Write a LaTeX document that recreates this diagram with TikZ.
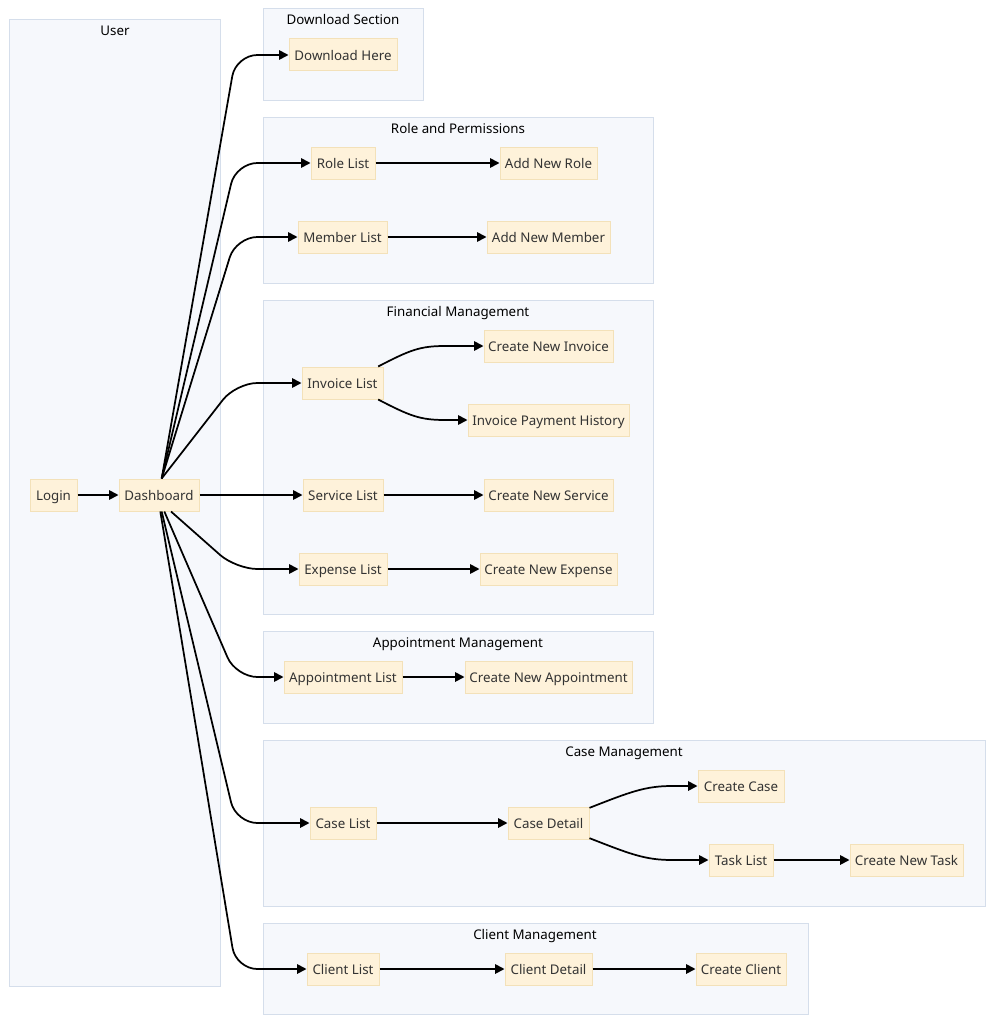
\documentclass[tikz,border=0pt]{standalone}
\usepackage{fontspec}
\setmainfont{Noto Sans}
\usetikzlibrary{arrows.meta}
\definecolor{clfill}{HTML}{F6F8FC}
\definecolor{cldraw}{HTML}{D5DEEB}
\definecolor{ndfill}{HTML}{FEF2DA}
\definecolor{nddraw}{HTML}{F3E1B9}
\definecolor{txt}{HTML}{333333}
\tikzset{
 cluster/.style={draw=cldraw, fill=clfill, line width=0.75pt},
 ctitle/.style={font=\fontsize{10}{12}\selectfont, text=black, inner sep=0, text height=9.35pt, text depth=0.75pt},
 box/.style={draw=nddraw, fill=ndfill, line width=0.75pt, minimum height=24pt, inner sep=0, font=\fontsize{10}{12}\selectfont, text=txt, text height=9.35pt, text depth=0.75pt},
 link/.style={line width=1.3pt, -{Triangle[length=7pt,width=7pt]}, rounded corners=16pt},
 curvelink/.style={line width=1.3pt, -{Triangle[length=7pt,width=7pt]}},
}
\begin{document}
\begin{tikzpicture}[x=0.75pt,y=-0.75pt]
\useasboundingbox (0,0) rectangle (994,1024);
% clusters
\draw[cluster] (9,20) rectangle (220,986);
\node[ctitle] (tUser) at (115,30) {User};
\draw[cluster] (263,9) rectangle (423,100);
\node[ctitle] (tDl) at (343,18.5) {Download Section};
\draw[cluster] (263,117) rectangle (653,283);
\node[ctitle] (tRole) at (458,127.5) {Role and Permissions};
\draw[cluster] (263,300) rectangle (653,614);
\node[ctitle] (tFin) at (458,310.5) {Financial Management};
\draw[cluster] (263,631) rectangle (653,723);
\node[ctitle] (tApp) at (458,641.5) {Appointment Management};
\draw[cluster] (263,740) rectangle (985,906);
\node[ctitle] (tCase) at (624,750.5) {Case Management};
\draw[cluster] (263,923) rectangle (808,1014);
\node[ctitle] (tClient) at (535,933.5) {Client Management};
% nodes
\node[box,minimum width=35.25pt] (login) at (53.5,495) {Login};
\node[box,minimum width=60pt] (dash) at (159,495) {Dashboard};
\node[box,minimum width=81pt] (dl) at (343,55) {Download Here};
\node[box,minimum width=48pt] (role) at (343,163) {Role List};
\node[box,minimum width=72.75pt] (addrole) at (548.5,163) {Add New Role};
\node[box,minimum width=66.75pt] (member) at (342.5,237) {Member List};
\node[box,minimum width=92.25pt] (addmember) at (548.5,237) {Add New Member};
\node[box,minimum width=60.75pt] (inv) at (342.5,383) {Invoice List};
\node[box,minimum width=96.75pt] (newinv) at (548.5,346) {Create New Invoice};
\node[box,minimum width=120.75pt] (invhist) at (548.5,420) {Invoice Payment History};
\node[box,minimum width=60pt] (svc) at (343,495) {Service List};
\node[box,minimum width=96.75pt] (newsvc) at (548.5,495) {Create New Service};
\node[box,minimum width=66pt] (exp) at (343,569) {Expense List};
\node[box,minimum width=102.75pt] (newexp) at (548.5,569) {Create New Expense};
\node[box,minimum width=88.5pt] (appt) at (343,677) {Appointment List};
\node[box,minimum width=125.25pt] (newappt) at (548.5,677) {Create New Appointment};
\node[box,minimum width=49.5pt] (caselist) at (343,823) {Case List};
\node[box,minimum width=60.75pt] (casedet) at (548.5,823) {Case Detail};
\node[box,minimum width=64.5pt] (newcase) at (741,786) {Create Case};
\node[box,minimum width=48pt] (task) at (741,860) {Task List};
\node[box,minimum width=84.75pt] (newtask) at (906.5,860) {Create New Task};
\node[box,minimum width=54pt] (client) at (343,969) {Client List};
\node[box,minimum width=65.25pt] (clientdet) at (548.5,969) {Client Detail};
\node[box,minimum width=67.5pt] (newclient) at (741,969) {Create Client};
% edges
\draw[link] (login) -- (dash);
\draw[link] ([xshift=2pt]dash.north) -- (236,55) -- (dl.west);
\draw[link] ([xshift=2pt]dash.north) -- (236,163) -- (role.west);
\draw[link] ([xshift=2pt]dash.north) -- (236,237) -- (member.west);
\draw[link] ([xshift=2pt]dash.north) -- (236,383) -- (inv.west);
\draw[link] (dash.east) -- (svc.west);
\draw[link] ([xshift=9pt]dash.south) -- (236,569) -- (exp.west);
\draw[link] ([xshift=4pt]dash.south) -- (236,677) -- (appt.west);
\draw[link] ([xshift=2pt]dash.south) -- (236,823) -- (caselist.west);
\draw[link] ([xshift=1pt]dash.south) -- (236,969) -- (client.west);
\draw[link] (role) -- (addrole);
\draw[link] (member) -- (addmember);
\draw[curvelink] ([xshift=-4pt]inv.north east) .. controls (410,350) and (420,346) .. (445,346) -- (newinv.west);
\draw[curvelink] ([xshift=-4pt]inv.south east) .. controls (410,416) and (420,420) .. (445,420) -- (invhist.west);
\draw[link] (svc) -- (newsvc);
\draw[link] (exp) -- (newexp);
\draw[link] (appt) -- (newappt);
\draw[link] (caselist) -- (casedet);
\draw[curvelink] ([yshift=-1pt]casedet.north east) .. controls (630,792) and (645,786) .. (672,786) -- (newcase.west);
\draw[curvelink] ([yshift=1pt]casedet.south east) .. controls (630,854) and (645,860) .. (672,860) -- (task.west);
\draw[link] (task) -- (newtask);
\draw[link] (client) -- (clientdet);
\draw[link] (clientdet) -- (newclient);
\end{tikzpicture}
\end{document}
